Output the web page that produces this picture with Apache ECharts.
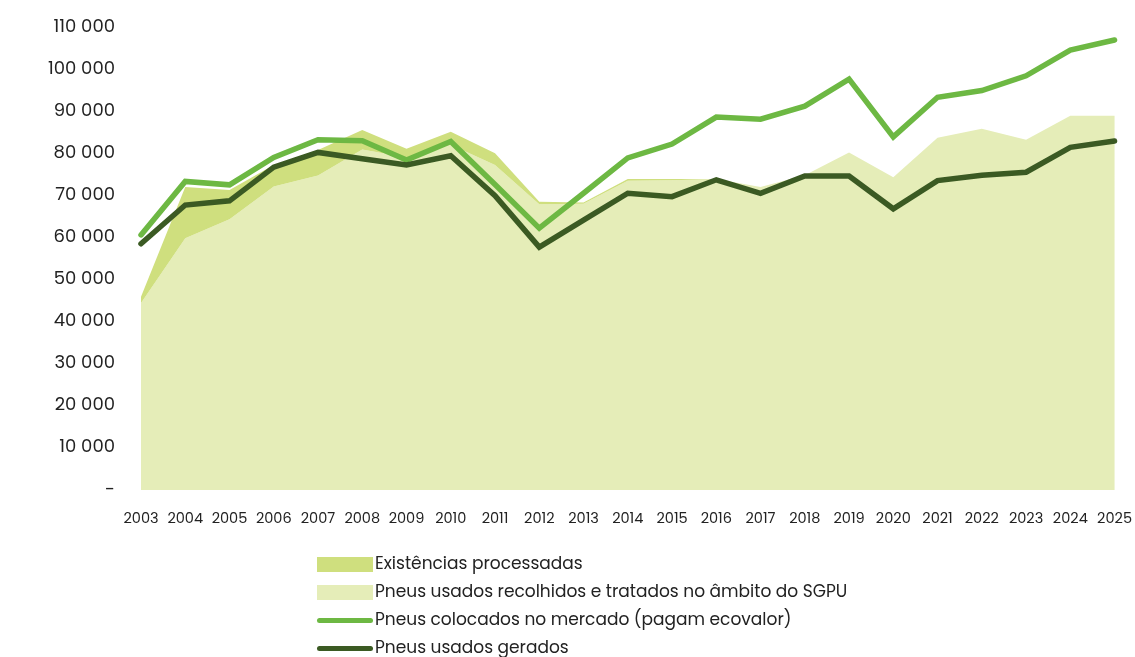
<!DOCTYPE html>
<html lang="pt">
<head>
    <meta charset="UTF-8">
    <title>Pneus</title>
    <style>
        html, body { margin: 0; padding: 0; background: #fff; }
        #chart { width: 1135px; height: 657px; }
    </style>
</head>
<body>
<div id="chart"></div>
<script src="https://cdn.jsdelivr.net/npm/echarts@6/dist/echarts.min.js"></script>
<script>
    var anos = ['2003','2004','2005','2006','2007','2008','2009','2010','2011','2012','2013','2014',
                '2015','2016','2017','2018','2019','2020','2021','2022','2023','2024','2025'];
    // area de baixo
    var recolhidos = [44400, 59800, 64300, 72100, 74700, 80900, 79000, 82000, 77200, 67900, 68000, 73500,
                      73600, 73900, 72000, 74800, 80200, 74300, 83700, 85800, 83200, 88900, 88900];
    // empilhado por cima dos recolhidos
    var existencias = [1500, 12200, 7000, 5100, 6100, 4600, 2100, 3100, 2800, 600, 300, 400,
                       300, 0, 0, 0, 0, 0, 0, 0, 0, 0, 0];
    var colocados = [60600, 73300, 72500, 79000, 83200, 83000, 78400, 82800, 72600, 62200, 70500, 78900,
                     82200, 88600, 88100, 91200, 97600, 83900, 93300, 94900, 98400, 104500, 106900];
    var gerados = [58500, 67700, 68700, 76700, 80200, 78700, 77200, 79400, 69900, 57700, 64100, 70500,
                   69700, 73700, 70500, 74600, 74600, 66800, 73500, 74800, 75500, 81400, 82900];

    var nomes = ['Existências processadas', 'Pneus usados recolhidos e tratados no âmbito do SGPU',
                 'Pneus colocados no mercado (pagam ecovalor)', 'Pneus usados gerados'];
    var cores = ['#cfdf7e', '#e5edb8', '#6db843', '#3b5a23'];
    var fonte = 'Poppins, Inter, "Noto Sans", sans-serif';
    // icone da legenda para as linhas (barra fina com pontas redondas)
    var iconeLinha = 'path://M2.5,0 L53.5,0 A2.5,2.5 0 0 1 53.5,5 L2.5,5 A2.5,2.5 0 0 1 2.5,0 Z';

    var myChart = echarts.init(document.getElementById('chart'));
    var option = {
        animation: false,
        backgroundColor: '#fff',
        textStyle: {fontFamily: fonte},
        grid: {left: 141, right: 20, top: 27, bottom: 167},
        legend: {
            orient: 'vertical',
            left: 317,
            top: 556,
            padding: 0,
            height: 300,
            itemWidth: 56,
            itemHeight: 15,
            itemGap: 11,
            selectedMode: false,
            textStyle: {fontSize: 17, color: '#222', fontFamily: fonte, padding: [0, 0, 0, -3]},
            data: [
                {name: nomes[0], icon: 'rect'},
                {name: nomes[1], icon: 'rect'},
                {name: nomes[2], icon: iconeLinha},
                {name: nomes[3], icon: iconeLinha}
            ]
        },
        xAxis: {
            type: 'category',
            boundaryGap: false,
            data: anos,
            axisLine: {show: false},
            axisTick: {show: false},
            axisLabel: {fontSize: 14.5, color: '#222', margin: 22, interval: 0, fontFamily: fonte}
        },
        yAxis: {
            type: 'value',
            min: 0,
            max: 110000,
            interval: 10000,
            splitLine: {show: false},
            axisLine: {show: false},
            axisTick: {show: false},
            axisLabel: {
                fontSize: 18, color: '#222', margin: 26, fontFamily: fonte,
                formatter: function (v) {
                    if (v === 0) return '-';
                    return (v / 1000) + ' 000';
                }
            }
        },
        series: [
            {
                name: nomes[1],
                type: 'line',
                stack: 'areas',
                data: recolhidos,
                symbol: 'none',
                lineStyle: {width: 0},
                itemStyle: {color: cores[1]},
                areaStyle: {color: cores[1], opacity: 1}
            },
            {
                name: nomes[0],
                type: 'line',
                stack: 'areas',
                data: existencias,
                symbol: 'none',
                lineStyle: {width: 0},
                itemStyle: {color: cores[0]},
                areaStyle: {color: cores[0], opacity: 1}
            },
            {
                name: nomes[2],
                type: 'line',
                data: colocados,
                symbol: 'none',
                itemStyle: {color: cores[2]},
                lineStyle: {width: 5.5, color: cores[2], cap: 'round', join: 'miter'}
            },
            {
                name: nomes[3],
                type: 'line',
                data: gerados,
                symbol: 'none',
                itemStyle: {color: cores[3]},
                lineStyle: {width: 5.5, color: cores[3], cap: 'round', join: 'miter'}
            }
        ]
    };
    myChart.setOption(option);
</script>
</body>
</html>
